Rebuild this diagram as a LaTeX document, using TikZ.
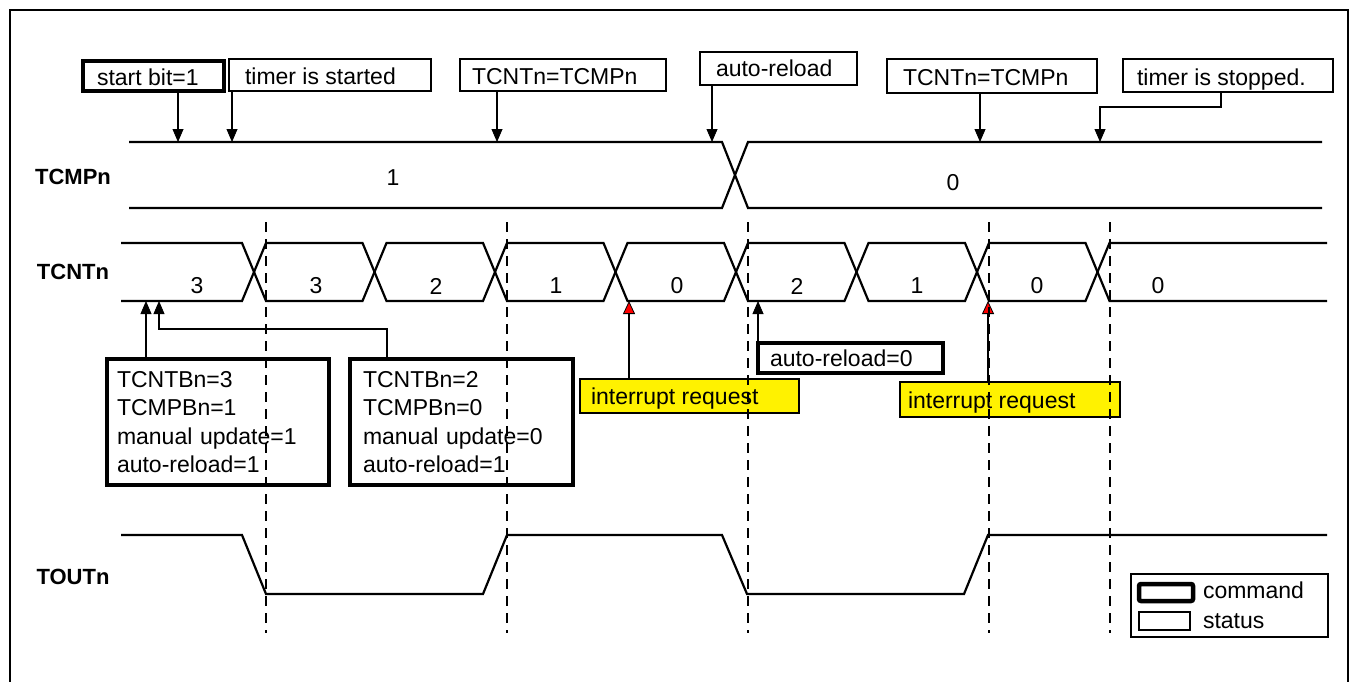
\documentclass[tikz,border=0pt]{standalone}
\usepackage{fontspec}
\setmainfont{Liberation Sans}
\usetikzlibrary{arrows.meta}
\newcommand\lbx[3][20pt]{\makebox[#2][l]{\smash{#3}\rule{0pt}{#1}}}
\tikzset{
  every node/.style={font=\fontsize{23}{28.5}\selectfont, outer sep=0pt},
  status/.style={draw, line width=2pt, fill=white, inner ysep=0pt, anchor=north west},
  command/.style={draw, line width=4.5pt, fill=white, inner ysep=0pt, anchor=north west},
  irq/.style={draw, line width=2pt, fill=yellow, inner ysep=0pt, anchor=north west},
  wave/.style={line width=2.2pt, line join=miter},
  gridline/.style={line width=2pt, dash pattern=on 10pt off 7pt},
  ptr/.style={line width=2pt, -{Triangle[length=13pt,width=11pt,line width=0.8pt]}},
  irqptr/.style={line width=2pt, -{Triangle[length=13pt,width=12pt,line width=0.8pt,fill=red]}},
  sig/.style={inner sep=0pt, font=\bfseries\fontsize{22}{26}\selectfont},
  val/.style={inner sep=0pt},
  txt/.style={inner sep=0pt, anchor=west},
}
\begin{document}
\begin{tikzpicture}[x=1pt,y=-1pt]
\useasboundingbox (0,0) rectangle (1356,682);
% frame
\draw[line width=2.5pt] (10,690) -- (10,10) -- (1348,10) -- (1348,690);

% signal names
\node[sig] (lTCMP) at (73,177) {TCMPn};
\node[sig] (lTCNT) at (73,272) {TCNTn};
\node[sig] (lTOUT) at (73,577) {TOUTn};

% TCMPn waveform
\draw[wave] (129,142) -- (722,142) -- (748,208) -- (1322,208);
\draw[wave] (129,208) -- (722,208) -- (748,142) -- (1322,142);
\node[val] (cmp1) at (393,178) {1};
\node[val] (cmp0) at (953,183) {0};

% TCNTn waveform
\draw[wave] (121,243)--(242,243)--(266,301)--(362.5,301)--(386.5,243)--(483,243)--(507,301)--(603.5,301)--(627.5,243)--(724,243)--(748,301)--(844.5,301)--(868.5,243)--(965,243)--(989,301)--(1085.5,301)--(1109.5,243)--(1327,243);
\draw[wave] (121,301)--(242,301)--(266,243)--(362.5,243)--(386.5,301)--(483,301)--(507,243)--(603.5,243)--(627.5,301)--(724,301)--(748,243)--(844.5,243)--(868.5,301)--(965,301)--(989,243)--(1085.5,243)--(1109.5,301)--(1327,301);
\foreach \x/\v [count=\i] in {197/3,316/3,436/2,556/1,677/0,797/2,917/1,1037/0,1158/0}
  \node[val] (cnt\i) at (\x,286) {\v};

% TOUTn waveform
\draw[wave] (121,535)--(242,535)--(266,594)--(483,594)--(507,535)--(722,535)--(747,594)--(964,594)--(988,535)--(1327,535);

% top status / command boxes
\node[command, inner xsep=14pt, minimum width=141pt, minimum height=30pt] (startbit) at (83,61) {\lbx{113pt}{start bit=1}};
\node[status, inner xsep=16pt, minimum width=202pt, minimum height=32pt] (started) at (229,59) {\lbx{170pt}{timer is started}};
\node[status, inner xsep=12pt, minimum width=206pt, minimum height=32pt] (eqa) at (460,59) {\lbx{182pt}{TCNTn=TCMPn}};
\node[status, inner xsep=16pt, minimum width=157pt, minimum height=33pt] (reload) at (700,52) {\lbx[17pt]{125pt}{auto-reload}};
\node[status, inner xsep=16pt, minimum width=210pt, minimum height=34pt] (eqb) at (887,59) {\lbx{178pt}{TCNTn=TCMPn}};
\node[status, inner xsep=14pt, minimum width=210pt, minimum height=33pt] (stopped) at (1123,59) {\lbx{182pt}{timer is stopped.}};

% points on the waveforms
\coordinate (p1) at (178,142);
\coordinate (p2) at (232,142);
\coordinate (p3) at (497,142);
\coordinate (p4) at (712,142);
\coordinate (p5) at (980,142);
\coordinate (p6) at (1100,142);
\coordinate (q1) at (146,301);
\coordinate (q2) at (159,301);
\coordinate (q3) at (629,301);
\coordinate (q4) at (758,301);
\coordinate (q5) at (988,301);

\draw[ptr] (startbit.south -| p1) -- (p1);
\draw[ptr] (started.south -| p2) -- (p2);
\draw[ptr] (eqa.south -| p3) -- (p3);
\draw[ptr] (reload.south -| p4) -- (p4);
\draw[ptr] (eqb.south -| p5) -- (p5);
\draw[ptr] ([xshift=-7pt]stopped.south) -- ++(0,15) -| (p6);

% lower boxes
\node[command, inner xsep=10pt, minimum width=222pt, minimum height=126pt, text width=202pt, align=left] (cfgA) at (107,359) {TCNTBn=3\\TCMPBn=1\\manual update=1\\auto-reload=1};
\node[command, inner xsep=13pt, minimum width=223pt, minimum height=126pt, text width=197pt, align=left] (cfgB) at (350,359) {TCNTBn=2\\TCMPBn=0\\manual update=0\\auto-reload=1};
\node[command, inner xsep=12pt, minimum width=185pt, minimum height=30pt] (reload0) at (758,343) {\lbx[17pt]{161pt}{auto-reload=0}};
\node[irq, inner xsep=11pt, minimum width=219pt, minimum height=34pt] (irqA) at (580,379) {\lbx[17pt]{197pt}{interrupt request}};
\node[irq, inner xsep=8pt, minimum width=220pt, minimum height=35pt] (irqB) at (900,382) {\lbx[17pt]{204pt}{interrupt request}};

\draw[ptr] (cfgA.north -| q1) -- (q1);
\draw[ptr] ([xshift=-74.5pt]cfgB.north) -- ++(0,-30) -| (q2);
\draw[irqptr] (irqA.north -| q3) -- (q3);
\draw[ptr] (reload0.north west) -- (q4);
\draw[irqptr] (irqB.north -| q5) -- (q5);

% dashed time markers
\foreach \x in {266,507,748,989,1110}
  \draw[gridline] (\x,222) -- (\x,633);

% legend
\node[draw, line width=2pt, minimum width=197pt, minimum height=63pt, anchor=north west, inner sep=0pt] (legend) at (1131,574) {};
\node[draw, line width=4.5pt, rounded corners=2pt, minimum width=54pt, minimum height=17pt, anchor=north west, inner sep=0pt] (lgcmd) at (1139,584) {};
\node[draw, line width=2pt, minimum width=51pt, minimum height=18pt, anchor=north west, inner sep=0pt] (lgst) at (1139,612) {};
\node[txt] (lgcmdt) at (1203,590) {command};
\node[txt] (lgstt) at (1203,621) {status};
\end{tikzpicture}
\end{document}
